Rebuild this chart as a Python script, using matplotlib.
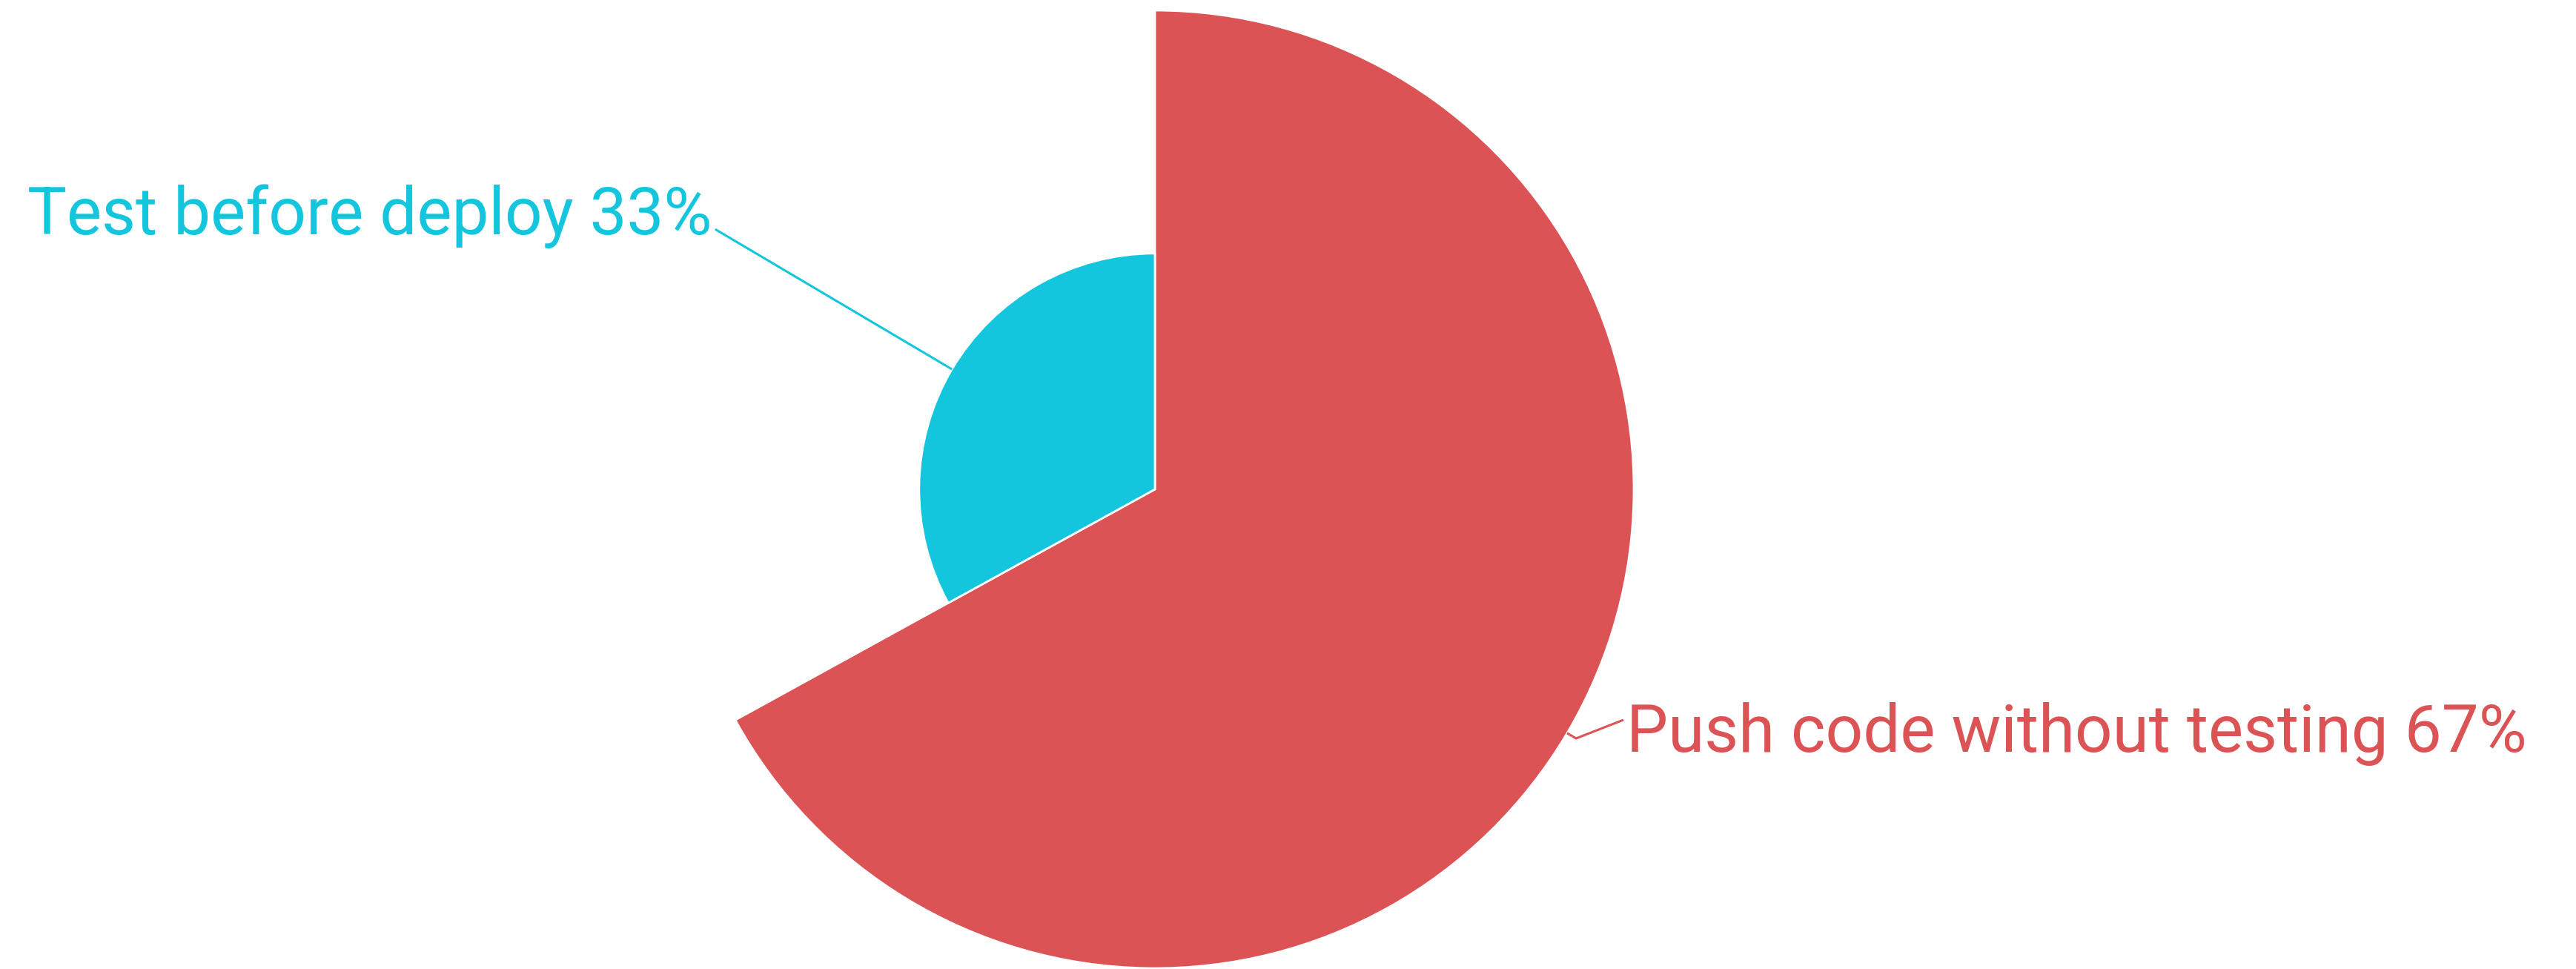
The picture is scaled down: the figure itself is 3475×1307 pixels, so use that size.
import numpy as np
import matplotlib
matplotlib.use("Agg")
import matplotlib.pyplot as plt
from matplotlib.patches import Wedge

labels = ["Push code without testing", "Test before deploy"]
values = [67, 33]
colors = ["#DB5355", "#13C6DD"]

W, H = 3475, 1307
fig = plt.figure(figsize=(W / 100, H / 100), dpi=100)
ax = fig.add_axes([0, 0, 1, 1])
ax.set_xlim(0, W)
ax.set_ylim(0, H)
ax.set_aspect("equal")
ax.axis("off")

cx, cy = 1558, H - 660
rmax = 646
total = sum(values)
start = 90.0
vmax = max(values)

# label layout: radial extension, optional elbow point, text alignment, text anchor (baseline)
line_ext = [(14, (2190, H - 971), "left", (2194, H - 1014)),
            (371, None, "right", (960, H - 316))]

for i, (lab, v, c) in enumerate(zip(labels, values, colors)):
    sweep = 360.0 * v / total
    t1, t2 = start - sweep, start
    r = rmax * v / vmax
    ax.add_patch(Wedge((cx, cy), r, t1, t2, facecolor=c, edgecolor="white", linewidth=2))
    mid = np.deg2rad((t1 + t2) / 2)
    ext, p2, ha, tp = line_ext[i]
    x0, y0 = cx + r * np.cos(mid), cy + r * np.sin(mid)
    x1, y1 = cx + (r + ext) * np.cos(mid), cy + (r + ext) * np.sin(mid)
    xs, ys = [x0, x1], [y0, y1]
    if p2 is not None:
        xs.append(p2[0]); ys.append(p2[1])
    ax.plot(xs, ys, color=c, lw=2.2, solid_capstyle="butt")
    pct = round(100 * v / total)
    ax.text(tp[0], tp[1], f"{lab} {pct}%", color=c, fontsize=64,
            family=["Roboto", "DejaVu Sans"], ha=ha, va="baseline")
    start = t1

fig.savefig("out.png", dpi=100, facecolor="white")
